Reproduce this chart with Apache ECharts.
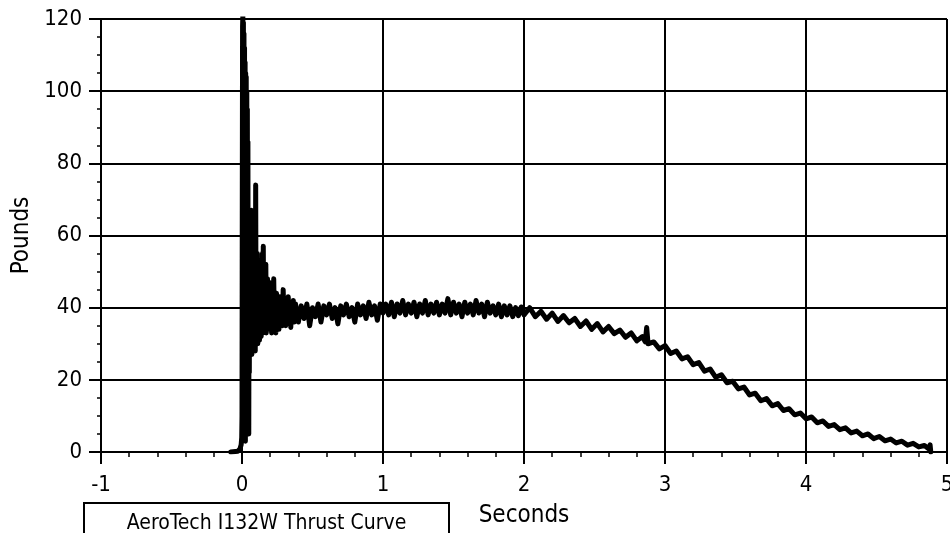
<!DOCTYPE html>
<html>
<head>
<meta charset="utf-8">
<script src="https://cdn.jsdelivr.net/npm/echarts@6/dist/echarts.min.js"></script>
<style>
html,body{margin:0;padding:0;background:#fff;}
#chart{width:950px;height:533px;}
</style>
</head>
<body>
<div id="chart"></div>
<script>
// ---- Data ----
var chartTitle = 'AeroTech I132W Thrust Curve';
var xName = 'Seconds';
var yName = 'Pounds';
var xMin = -1, xMax = 5, xStep = 1;
var yMin = 0, yMax = 120, yStep = 20;

// ignition transient [seconds, pounds]
var ignition = [
  [-0.08,0],[-0.03,0.2],[-0.015,0.8],[-0.006,2],[-0.002,4],[0.000,10],[0.002,70],[0.004,118],
  [0.006,121],[0.008,100],[0.010,119],[0.012,20],[0.014,116],[0.016,8],[0.018,112],[0.020,4],
  [0.022,108],[0.024,3],[0.026,105],[0.028,6],[0.030,104],[0.032,5],[0.034,100],[0.036,6],
  [0.038,95],[0.040,5],[0.042,86],[0.044,12],[0.046,60],[0.048,5],[0.050,48],[0.052,22],
  [0.055,62],[0.058,28],[0.061,58],[0.064,30],[0.067,67],[0.070,27],[0.073,60],[0.076,31],
  [0.079,55],[0.082,29],[0.085,62],[0.088,33],[0.091,58],[0.094,28],[0.097,74],[0.100,30],
  [0.103,52],[0.106,32],[0.109,55],[0.112,30],[0.115,50],[0.118,33],[0.121,53],[0.124,31],
  [0.127,49],[0.130,34],[0.133,52],[0.136,32],[0.139,50],[0.142,35],[0.145,55],[0.148,33],
  [0.151,57],[0.154,35],[0.157,50],[0.160,34],[0.163,48],[0.166,36],[0.169,52],[0.172,33],
  [0.175,46],[0.178,36],[0.181,48],[0.184,34],[0.188,45],[0.192,36],[0.196,47],[0.200,35],
  [0.205,44],[0.210,33],[0.215,46],[0.220,37],[0.225,48],[0.230,35],[0.235,42],[0.240,33],
  [0.245,44],[0.250,37],[0.256,41],[0.262,34],[0.268,43],[0.274,36],[0.280,41],[0.286,35],
  [0.292,45],[0.298,37],[0.304,42],[0.310,35],[0.316,40],[0.322,36],[0.328,43],[0.334,37],
  [0.340,41],[0.346,34.5],[0.352,40.5],[0.358,37],[0.364,42],[0.370,36]
];

// sustained burn [seconds, pounds]
var sustain = [
  [0.38,41],[0.40,36],[0.42,40.5],[0.44,37],[0.46,41],[0.48,35],[0.50,40],[0.52,37.5],
  [0.54,41],[0.56,36],[0.58,40.5],[0.60,38],[0.62,41],[0.64,37],[0.66,40],[0.68,35.5],
  [0.70,40.5],[0.72,38],[0.74,41],[0.76,37.5],[0.78,40],[0.80,36],[0.82,41],[0.84,38],
  [0.86,40.5],[0.88,37],[0.90,41.5],[0.92,38],[0.94,40.5],[0.96,36.5],[0.98,41],[1.00,38.5],
  [1.02,41],[1.04,38],[1.06,41.5],[1.08,37.5],[1.10,41],[1.12,38.5],[1.14,42],[1.16,38],
  [1.18,41],[1.20,38.5],[1.22,41.5],[1.24,37.5],[1.26,41],[1.28,38.5],[1.30,42],[1.32,38],
  [1.34,41],[1.36,38.5],[1.38,41.5],[1.40,38],[1.42,41],[1.44,38.5],[1.46,42.5],[1.48,38],
  [1.50,41.5],[1.52,38.5],[1.54,41],[1.56,37.5],[1.58,41.5],[1.60,38.5],[1.62,41],[1.64,38],
  [1.66,42],[1.68,38.5],[1.70,41],[1.72,37.5],[1.74,41.5],[1.76,38.5],[1.78,40.5],[1.80,38],
  [1.82,41],[1.84,37.5],[1.86,40.5],[1.88,38],[1.90,40.5],[1.92,37.5],[1.94,40],[1.96,37.8],
  [1.98,40.2],[2.00,38]
];

// tail-off [seconds, pounds]
var tailoff = [
  [2.04,40],[2.08,37.5],[2.12,39],[2.16,36.8],[2.20,38.5],[2.24,36.2],[2.28,37.8],[2.32,35.8],
  [2.36,37],[2.40,34.8],[2.44,36.3],[2.48,34],[2.52,35.6],[2.56,33.3],[2.60,34.8],[2.64,32.8],
  [2.68,33.8],[2.72,31.8],[2.76,33],[2.80,30.8],[2.84,32],[2.86,30.5],[2.87,34.5],[2.88,30],
  [2.92,30.5],[2.96,28.6],[3.00,29.5],[3.04,27.3],[3.08,28],[3.12,25.8],[3.16,26.4],[3.20,24.2],
  [3.24,24.8],[3.28,22.4],[3.32,23],[3.36,20.7],[3.40,21.4],[3.44,19.2],[3.48,19.6],[3.52,17.5],
  [3.56,18],[3.60,15.8],[3.64,16.3],[3.68,14.2],[3.72,14.8],[3.76,12.8],[3.80,13.4],[3.84,11.5],
  [3.88,12],[3.92,10.3],[3.96,10.8],[4.00,9.2],[4.04,9.7],[4.08,8.1],[4.12,8.6],[4.16,7.1],
  [4.20,7.6],[4.24,6.2],[4.28,6.7],[4.32,5.3],[4.36,5.8],[4.40,4.5],[4.44,5],[4.48,3.7],
  [4.52,4.3],[4.56,3.1],[4.60,3.6],[4.64,2.5],[4.68,3],[4.72,1.9],[4.76,2.4],[4.80,1.4],
  [4.84,1.8],[4.87,0.9],[4.88,2],[4.885,0]
];

var thrust = ignition.concat(sustain, tailoff);

var FONT = "'DejaVu Sans Condensed', 'DejaVu Sans', sans-serif";
var chart = echarts.init(document.getElementById('chart'), null, {renderer: 'canvas'});
chart.setOption({
  animation: false,
  backgroundColor: '#ffffff',
  grid: {left: 101, right: 3, top: 19, bottom: 81, containLabel: false, outerBoundsMode: 'none'},
  xAxis: {
    type: 'value', min: xMin, max: xMax, interval: xStep,
    name: xName, nameLocation: 'middle', nameGap: 52,
    nameTextStyle: {color: '#000', fontSize: 24, fontFamily: FONT},
    axisLine: {show: true, onZero: false, lineStyle: {color: '#000', width: 2}},
    axisTick: {show: true, length: 12, lineStyle: {color: '#000', width: 2}},
    minorTick: {show: true, splitNumber: 5, length: 5, lineStyle: {color: '#000', width: 1.5}},
    splitLine: {show: true, lineStyle: {color: '#000', width: 2}},
    axisLabel: {color: '#000', fontSize: 22, fontFamily: FONT, margin: 22, showMinLabel: true, showMaxLabel: true, hideOverlap: false}
  },
  yAxis: {
    type: 'value', min: yMin, max: yMax, interval: yStep,
    name: yName, nameLocation: 'middle', nameGap: 66,
    nameTextStyle: {color: '#000', fontSize: 24, fontFamily: FONT},
    axisLine: {show: true, onZero: false, lineStyle: {color: '#000', width: 2}},
    axisTick: {show: true, length: 12, lineStyle: {color: '#000', width: 2}},
    minorTick: {show: true, splitNumber: 4, length: 4, lineStyle: {color: '#000', width: 1.5}},
    splitLine: {show: true, lineStyle: {color: '#000', width: 2}},
    axisLabel: {color: '#000', fontSize: 22, fontFamily: FONT, margin: 19, showMinLabel: true, showMaxLabel: true}
  },
  series: [{
    type: 'line',
    data: thrust,
    showSymbol: false,
    symbol: 'none',
    sampling: null,
    clip: true,
    lineStyle: {color: '#000', width: 5, join: 'round', cap: 'round'},
    z: 5
  }],
  graphic: [{
    type: 'group',
    left: 83, top: 502,
    children: [
      {type: 'rect', shape: {x: 0, y: 0, width: 365, height: 60},
       style: {fill: '#fff', stroke: '#000', lineWidth: 2}},
      {type: 'text', x: 182.5, y: 21,
       style: {text: chartTitle, fill: '#000', font: '21px ' + FONT, textAlign: 'center', textVerticalAlign: 'middle'}}
    ]
  }]
});
</script>
</body>
</html>
